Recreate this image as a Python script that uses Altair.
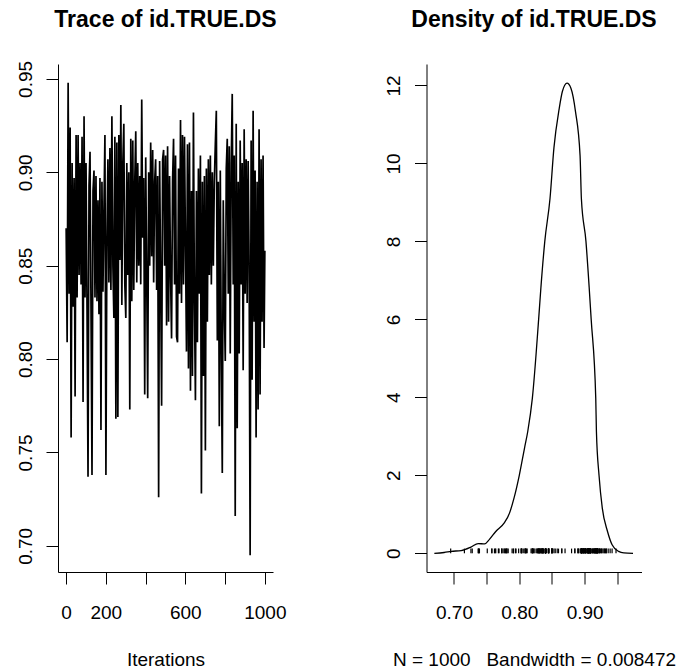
import altair as alt
import pandas as pd

# ---- data ----
iterations = list(range(1, 1000, 5)) + [1000]
trace_values = [
    0.870, 0.809, 0.948, 0.835, 0.924, 0.758, 0.905, 0.828, 0.897, 0.780,
    0.920, 0.833, 0.920, 0.845, 0.905, 0.840, 0.919, 0.777, 0.930, 0.833,
    0.905, 0.827, 0.737, 0.893, 0.911, 0.827, 0.738, 0.890, 0.901, 0.833,
    0.898, 0.831, 0.885, 0.824, 0.897, 0.762, 0.895, 0.836, 0.880, 0.920,
    0.738, 0.865, 0.907, 0.841, 0.913, 0.837, 0.930, 0.850, 0.822, 0.919,
    0.768, 0.916, 0.769, 0.920, 0.853, 0.936, 0.829, 0.905, 0.926, 0.840,
    0.822, 0.905, 0.845, 0.900, 0.773, 0.918, 0.831, 0.917, 0.837, 0.895,
    0.922, 0.841, 0.905, 0.850, 0.898, 0.840, 0.939, 0.865, 0.897, 0.781,
    0.908, 0.845, 0.779, 0.900, 0.850, 0.916, 0.855, 0.912, 0.841, 0.895,
    0.907, 0.837, 0.898, 0.726, 0.906, 0.844, 0.775, 0.907, 0.912, 0.850,
    0.909, 0.818, 0.914, 0.820, 0.898, 0.845, 0.811, 0.895, 0.918, 0.840,
    0.909, 0.812, 0.809, 0.902, 0.835, 0.928, 0.830, 0.920, 0.840, 0.919,
    0.860, 0.804, 0.915, 0.795, 0.916, 0.783, 0.890, 0.791, 0.932, 0.830,
    0.778, 0.890, 0.809, 0.902, 0.835, 0.909, 0.728, 0.895, 0.791, 0.898,
    0.751, 0.902, 0.820, 0.907, 0.845, 0.909, 0.840, 0.900, 0.850, 0.895,
    0.915, 0.933, 0.810, 0.895, 0.764, 0.901, 0.803, 0.739, 0.885, 0.830,
    0.799, 0.902, 0.918, 0.835, 0.914, 0.803, 0.905, 0.942, 0.840, 0.909,
    0.716, 0.926, 0.763, 0.895, 0.803, 0.917, 0.840, 0.905, 0.794, 0.923,
    0.835, 0.907, 0.830, 0.906, 0.850, 0.695, 0.917, 0.789, 0.933, 0.820,
    0.901, 0.758, 0.895, 0.773, 0.923, 0.781, 0.907, 0.820, 0.909, 0.806,
    0.858,
]

density_x = [0.670, 0.685, 0.696, 0.711, 0.726, 0.737, 0.747, 0.754, 0.764, 0.777,
             0.785, 0.792, 0.800, 0.808, 0.813, 0.820, 0.8296, 0.833, 0.839, 0.847,
             0.853, 0.861, 0.866, 0.873, 0.879, 0.886, 0.893, 0.895, 0.902, 0.907,
             0.910, 0.917, 0.918, 0.922, 0.927, 0.935, 0.942, 0.952, 0.960, 0.974]
density_y = [0.0, 0.02, 0.05, 0.07, 0.16, 0.25, 0.24, 0.35, 0.56, 0.78,
             1.03, 1.42, 2.0, 2.7, 3.13, 3.98, 6.0, 6.8, 8.0, 9.1,
             10.4, 11.4, 11.85, 12.06, 11.93, 11.33, 10.2, 9.1, 8.0, 6.8,
             6.0, 3.98, 3.13, 2.0, 1.16, 0.56, 0.22, 0.05, 0.01, 0.0]

trace_title = "Trace of id.TRUE.DS"
density_title = "Density of id.TRUE.DS"
trace_xlabel = "Iterations"
density_xlabel = "N = 1000\u00a0\u00a0\u00a0Bandwidth = 0.008472"

trace_xticks = [0, 200, 400, 600, 800, 1000]
trace_yticks = [0.70, 0.75, 0.80, 0.85, 0.90, 0.95]
dens_xticks = [0.70, 0.75, 0.80, 0.85, 0.90, 0.95]
dens_yticks = [0, 2, 4, 6, 8, 10, 12]

FONT = "Liberation Sans"
FS = 19

trace_df = pd.DataFrame({"iter": iterations, "val": trace_values})
dens_df = pd.DataFrame({"x": density_x, "y": density_y})
rug_df = pd.DataFrame({"x": trace_values})
rug_df["y0"] = 0.0
rug_df["y1"] = 0.12


def title(text, offset):
    return alt.TitleParams(text, font=FONT, fontSize=23, fontWeight="bold",
                           anchor="middle", frame="group", baseline="alphabetic",
                           offset=offset, color="black")


yaxis_common = dict(labelAngle=270, labelAlign="center", labelBaseline="alphabetic",
                    labelPadding=15, title=None)

trace = alt.Chart(trace_df).mark_line(color="black", strokeWidth=1.7).encode(
    x=alt.X("iter:Q",
            scale=alt.Scale(domain=[-39.96, 1040.96], nice=False, zero=False),
            axis=alt.Axis(values=trace_xticks, title=trace_xlabel, format="d",
                          labelExpr="(datum.value == 400 || datum.value == 800) ? '' : datum.label",
                          labelPadding=19, titlePadding=28)),
    y=alt.Y("val:Q",
            scale=alt.Scale(domain=[0.686, 0.958], nice=False, zero=False),
            axis=alt.Axis(values=trace_yticks, format=".2f", **yaxis_common)),
).properties(width=215, height=508, title=title(trace_title, 10.5))

xs = alt.Scale(domain=[0.658, 0.987], nice=False, zero=False)
ys = alt.Scale(domain=[-0.48, 12.55], nice=False, zero=False)

dens_line = alt.Chart(dens_df).mark_line(color="black", strokeWidth=1.3, interpolate="monotone").encode(
    x=alt.X("x:Q", scale=xs,
            axis=alt.Axis(values=dens_xticks, title=density_xlabel,
                          labelExpr="(abs(datum.value - 0.75) < 0.001 || abs(datum.value - 0.85) < 0.001 || abs(datum.value - 0.95) < 0.001) ? '' : format(datum.value, '.2f')",
                          labelPadding=19, titlePadding=28)),
    y=alt.Y("y:Q", scale=ys,
            axis=alt.Axis(values=dens_yticks, format="d", **yaxis_common)),
)

rug = alt.Chart(rug_df).mark_rule(color="black", strokeWidth=1.2).encode(
    x=alt.X("x:Q", scale=xs),
    y=alt.Y("y0:Q", scale=ys),
    y2="y1:Q",
)

density = alt.layer(dens_line, rug).properties(width=215, height=508, title=title(density_title, 14))

chart = alt.hconcat(trace, density, spacing=97.5).properties(
    padding={"left": 7, "top": 0, "right": 0, "bottom": 0}
).configure_view(stroke=None).configure_axis(
    grid=False, domainColor="black", tickColor="black", labelColor="black",
    titleColor="black", labelFont=FONT, titleFont=FONT, labelFontSize=FS,
    titleFontSize=FS, titleFontWeight="normal", tickSize=12, domainWidth=1,
    tickWidth=1, labelOverlap=False, labelFlush=False, labelBound=False,
)

chart.save("out.html", embed_options={"renderer": "svg", "actions": False})
